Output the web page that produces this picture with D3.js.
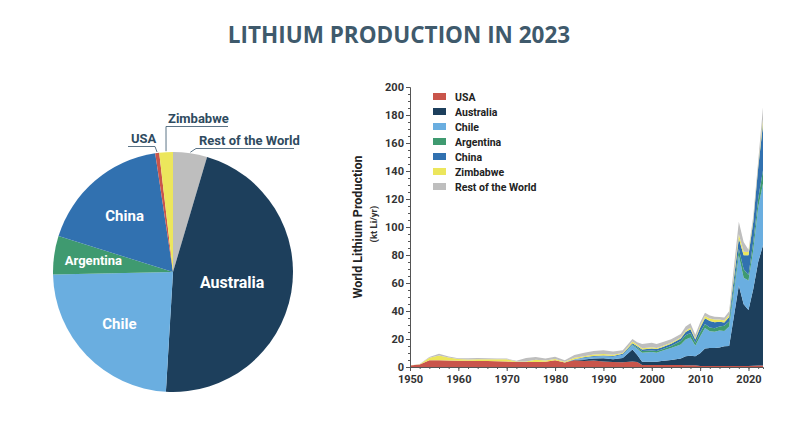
<!DOCTYPE html>
<html>
<head>
<meta charset="utf-8">
<script src="https://cdn.jsdelivr.net/npm/d3@7"></script>
<style>
  body { margin: 0; background: #fff; }
  svg { display: block; }
  .cond { font-family: 'Liberation Sans Narrow', 'Roboto', 'Open Sans', sans-serif; font-weight: bold; }
</style>
</head>
<body>
<script>
const countries = ["USA", "Australia", "Chile", "Argentina", "China", "Zimbabwe", "Rest of the World"];
const colors = ["#c9554b", "#1d3f5c", "#6aaee0", "#3f9a70", "#3171b0", "#ece65c", "#bebebe"];

const years = [1950, 1952, 1954, 1956, 1958, 1960, 1962, 1964, 1966, 1968, 1970, 1972, 1974, 1976, 1978,
  1980, 1982, 1984, 1986, 1988, 1990, 1992, 1994, 1996, 1997, 1998, 2000, 2001, 2002, 2004, 2006, 2007,
  2008, 2009, 2010, 2011, 2012, 2013, 2014, 2015, 2016, 2018, 2019, 2020, 2021, 2022, 2023];

// kt Li per year
const usa = [1.0, 1.8, 4.8, 4.8, 4.7, 4.5, 4.4, 4.3, 4.2, 4.1, 3.9, 3.6, 3.6, 3.6, 3.8,
  4.8, 3.3, 4.8, 4.3, 4.6, 4.0, 3.6, 3.4, 4.0, 3.6, 1.5, 1.5, 1.5, 1.5, 1.5, 1.5, 1.2,
  1.2, 1.2, 0.8, 0.8, 0.8, 0.8, 0.8, 0.8, 0.8, 0.8, 0.8, 0.8, 0.9, 1.0, 1.0];
const australia = [0, 0, 0, 0, 0, 0, 0, 0, 0, 0, 0, 0, 0, 0, 0,
  0, 0, 0.3, 1.0, 1.5, 2.2, 2.0, 3.0, 8.5, 5.0, 2.2, 2.3, 2.2, 2.8, 3.5, 4.5, 6.5,
  6.8, 6.5, 9.0, 12.5, 12.8, 12.8, 13.2, 14.0, 14.2, 57.5, 44, 40, 55, 74, 86];
const chile = [0, 0, 0, 0, 0, 0, 0, 0, 0, 0, 0, 0, 0, 0, 0,
  0, 0, 0.5, 1.2, 1.3, 1.5, 1.7, 2.3, 3.0, 4.5, 6.5, 7.0, 6.5, 7.2, 8.5, 10, 12,
  13, 7.5, 12, 14.5, 12, 11.5, 12, 11, 14, 21.5, 19, 21, 28, 39, 44];
const argentina = [0, 0, 0, 0, 0, 0, 0, 0, 0, 0, 0, 0, 0, 0, 0,
  0, 0, 0, 0, 0, 0, 0, 0, 0.5, 0.8, 1.2, 1.0, 1.2, 1.0, 1.5, 2.5, 3.0,
  3.2, 2.2, 2.9, 2.9, 2.7, 2.5, 3.0, 3.6, 3.5, 4.5, 6, 4, 6, 6.2, 9.6];
const china = [0, 0, 0, 0, 0, 0, 0, 0, 0, 0, 0, 0, 0, 0, 0,
  0, 0, 0, 0.4, 0.5, 0.6, 0.6, 0.7, 1.0, 1.0, 1.1, 1.5, 1.4, 1.5, 1.6, 1.8, 2.3,
  2.8, 2.3, 3.4, 4.1, 4.5, 4.3, 3.3, 2.4, 3.3, 7.5, 10, 14, 14, 22, 33];
const zimbabwe = [0, 0.2, 1.8, 3.4, 2.0, 1.2, 1.0, 1.2, 1.4, 1.5, 1.7, 0.4, 0.3, 1.5, 0.8,
  1.0, 0.5, 1.0, 0.8, 1.0, 1.0, 0.8, 0.6, 1.2, 1.0, 0.9, 0.8, 0.7, 0.7, 0.8, 0.7, 0.9,
  1.0, 0.8, 1.2, 1.7, 1.8, 2.0, 1.7, 1.5, 1.5, 3.0, 2.5, 2.4, 1.2, 1.0, 3.4];
const rest = [0, 0.1, 0.6, 1.2, 0.8, 0.6, 0.8, 0.9, 0.6, 0.5, 0.4, 0.4, 2.5, 2.0, 1.4,
  1.6, 1.0, 2.0, 2.4, 2.6, 2.6, 2.3, 2.0, 1.8, 1.7, 3.0, 3.2, 3.0, 2.8, 2.5, 2.5, 3.0,
  3.2, 2.5, 2.5, 2.3, 2.2, 2.0, 1.8, 2.0, 2.5, 9.0, 7.0, 1.5, 3.0, 3.5, 8.5];

const seriesValues = [usa, australia, chile, argentina, china, zimbabwe, rest];
const yTicks = [0, 20, 40, 60, 80, 100, 120, 140, 160, 180, 200];
const xTicks = [1950, 1960, 1970, 1980, 1990, 2000, 2010, 2020];

// pie slice order, clockwise from 12 o'clock
const pieOrder = ["Rest of the World", "Australia", "Chile", "Argentina", "China", "USA", "Zimbabwe"];

const W = 810, H = 426;
const color = d3.scaleOrdinal().domain(countries).range(colors);

const svg = d3.select("body").append("svg")
  .attr("width", W).attr("height", H);

svg.append("text")
  .attr("x", 399).attr("y", 43)
  .attr("text-anchor", "middle")
  .style("font-family", "'Open Sans', sans-serif")
  .style("font-weight", "bold")
  .style("font-size", "22.5px")
  .attr("fill", "#3f5a6c")
  .text("LITHIUM PRODUCTION IN 2023");

// ---------- pie ----------
const last = years.length - 1;
const pieData = pieOrder.map(name => ({ name: name, value: seriesValues[countries.indexOf(name)][last] }));
const cx = 173, cy = 272, r = 120;

const pie = d3.pie().sort(null).value(d => d.value);
const arcs = pie(pieData);
const arc = d3.arc().innerRadius(0).outerRadius(r);

const gPie = svg.append("g").attr("transform", `translate(${cx},${cy})`);
gPie.selectAll("path")
  .data(arcs)
  .join("path")
  .attr("d", arc)
  .attr("fill", d => color(d.data.name));

// labels inside
const inside = { "China": [0.62, 15], "Argentina": [0.67, 13], "Australia": [0.5, 16], "Chile": [0.62, 15] };
gPie.selectAll("text.inlabel")
  .data(arcs.filter(d => inside[d.data.name]))
  .join("text")
  .attr("class", "inlabel cond")
  .attr("transform", d => {
    const k = inside[d.data.name][0] * r;
    const c = d3.arc().innerRadius(k).outerRadius(k).centroid(d);
    return `translate(${c[0]},${c[1]})`;
  })
  .attr("dy", "0.35em")
  .attr("text-anchor", "middle")
  .attr("fill", "#fff")
  .style("font-size", d => inside[d.data.name][1] + "px")
  .text(d => d.data.name);

// callouts outside
const callouts = [
  { name: "USA", x: -42, y: -129, ulx: [-45, -18] },
  { name: "Zimbabwe", x: -5, y: -149, ulx: [-7, 55] },
  { name: "Rest of the World", x: 26, y: -127, ulx: [23, 121] }
];
callouts.forEach(c => {
  const a = arcs.find(d => d.data.name === c.name);
  const mid = (a.startAngle + a.endAngle) / 2;
  const tip = [Math.sin(mid) * (r + 1), -Math.cos(mid) * (r + 1)];
  const g = gPie.append("g");
  g.append("text")
    .attr("class", "cond")
    .attr("x", c.x).attr("y", c.y)
    .attr("fill", "#2f4b60")
    .style("font-size", "13px")
    .text(c.name);
  const uy = c.y + 3.5;
  const start = c.name === "USA" ? c.ulx[1] : c.ulx[0];
  g.append("path")
    .attr("d", `M${c.ulx[0]},${uy}H${c.ulx[1]}M${start},${uy}L${tip[0]},${tip[1]}`)
    .attr("fill", "none")
    .attr("stroke", "#4a6478")
    .attr("stroke-width", 0.9);
});

// ---------- stacked area ----------
const table = years.map((yr, i) => {
  const row = { year: yr };
  countries.forEach((c, j) => row[c] = seriesValues[j][i]);
  return row;
});
const stack = d3.stack().keys(countries);
const layers = stack(table);

const x = d3.scaleLinear().domain([1950, 2023]).range([410, 763]);
const y = d3.scaleLinear().domain([0, 200]).range([367, 87]);

const area = d3.area()
  .x(d => x(d.data.year))
  .y0(d => y(d[0]))
  .y1(d => y(d[1]));

svg.append("g").selectAll("path")
  .data(layers)
  .join("path")
  .attr("d", area)
  .attr("fill", d => color(d.key));

const axisStyle = g => {
  g.selectAll("path, line").attr("stroke", "#555").attr("stroke-width", 1);
  g.selectAll("text").attr("class", "cond").attr("fill", "#333").style("font-size", "11px");
};

svg.append("g")
  .attr("transform", "translate(410,0)")
  .call(d3.axisLeft(y).tickValues(d3.range(0, 201, 5)).tickSize(2).tickFormat(""))
  .call(axisStyle);
svg.append("g")
  .attr("transform", "translate(410,0)")
  .call(d3.axisLeft(y).tickValues(yTicks).tickSize(4).tickPadding(2))
  .call(axisStyle)
  .call(g => g.select(".domain").remove())
  .call(g => g.selectAll("text").attr("dy", "0.3em"));

svg.append("g")
  .attr("transform", "translate(0,367)")
  .call(d3.axisBottom(x).tickValues(d3.range(1950, 2024, 2)).tickSize(2).tickFormat(""))
  .call(axisStyle);
svg.append("g")
  .attr("transform", "translate(0,367)")
  .call(d3.axisBottom(x).tickValues(xTicks).tickSize(4).tickPadding(4).tickFormat(d3.format("d")))
  .call(axisStyle)
  .call(g => g.select(".domain").remove());

svg.append("text")
  .attr("class", "cond")
  .attr("transform", "translate(362,227) rotate(-90)")
  .attr("text-anchor", "middle")
  .attr("fill", "#222")
  .style("font-size", "12.5px")
  .text("World Lithium Production");
svg.append("text")
  .attr("class", "cond")
  .attr("transform", "translate(377,224) rotate(-90)")
  .attr("text-anchor", "middle")
  .attr("fill", "#333")
  .style("font-size", "9.5px")
  .text("(kt Li/yr)");

// legend
const legend = svg.append("g").attr("transform", "translate(433,93)");
const item = legend.selectAll("g")
  .data(countries)
  .join("g")
  .attr("transform", (d, i) => `translate(0,${i * 15})`);
item.append("rect")
  .attr("width", 13).attr("height", 7)
  .attr("fill", d => color(d));
item.append("text")
  .attr("class", "cond")
  .attr("x", 22).attr("y", 4)
  .attr("dy", "0.35em")
  .attr("fill", "#222")
  .style("font-size", "10.5px")
  .text(d => d);
</script>
</body>
</html>
